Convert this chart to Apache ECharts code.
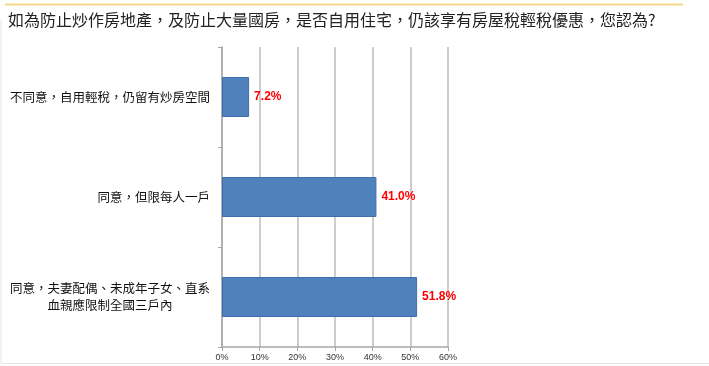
<!DOCTYPE html>
<html>
<head>
<meta charset="utf-8">
<script src="https://cdn.jsdelivr.net/npm/echarts@6/dist/echarts.min.js"></script>
<style>
html,body{margin:0;padding:0;background:#fff;}
#chart{width:709px;height:366px;}
</style>
</head>
<body>
<div id="chart"></div>
<script>
var titleText = '如為防止炒作房地產，及防止大量國房，是否自用住宅，仍該享有房屋稅輕稅優惠，您認為?';
var categories = [
  '不同意，自用輕稅，仍留有炒房空間',
  '同意，但限每人一戶',
  '同意，夫妻配偶、未成年子女、直系\n血親應限制全國三戶內'
];
var values = [7.2, 41.0, 51.8];
var xTicks = [0, 10, 20, 30, 40, 50, 60];

var chart = echarts.init(document.getElementById('chart'));
var cjk = '"Noto Sans CJK TC", "Noto Sans CJK SC", sans-serif';
chart.setOption({
  backgroundColor: '#fff',
  animation: false,
  title: {
    text: titleText,
    left: 3,
    top: 7,
    textStyle: { fontFamily: cjk, fontSize: 16, fontWeight: 'normal', color: '#222' }
  },
  graphic: [
    { type: 'line', shape: { x1: 5, y1: 4.5, x2: 683, y2: 4.5 }, style: { stroke: '#F3D68A', lineWidth: 2 } },
    { type: 'line', shape: { x1: 1, y1: 20, x2: 1, y2: 363 }, style: { stroke: '#E4E4E4', lineWidth: 1 } },
    { type: 'line', shape: { x1: 1, y1: 363.5, x2: 709, y2: 363.5 }, style: { stroke: '#E4E4E4', lineWidth: 1 } }
  ],
  grid: { left: 222, right: 261, top: 47, bottom: 19, containLabel: false },
  xAxis: {
    type: 'value',
    min: xTicks[0],
    max: xTicks[xTicks.length - 1],
    interval: 10,
    axisLine: { show: true, lineStyle: { color: '#A6A6A6', width: 1.5 } },
    axisTick: { show: true, length: 4, lineStyle: { color: '#A6A6A6' } },
    splitLine: { show: true, lineStyle: { color: '#BDBDBD', width: 1.5 } },
    axisLabel: { formatter: '{value}%', fontSize: 9, color: '#333', margin: 6, fontFamily: 'Liberation Sans, Arial, sans-serif' }
  },
  yAxis: {
    type: 'category',
    data: categories,
    inverse: true,
    axisLine: { show: true, lineStyle: { color: '#A6A6A6', width: 1.5 } },
    axisTick: { show: true, length: 4, lineStyle: { color: '#A6A6A6' } },
    axisLabel: {
      margin: 12,
      color: '#111',
      fontSize: 12.5,
      fontFamily: cjk,
      lineHeight: 17,
      formatter: function (v) { return '{c|' + v + '}'; },
      rich: { c: { align: 'center', fontSize: 12.5, fontFamily: cjk, color: '#111', lineHeight: 17 } }
    }
  },
  series: [{
    type: 'bar',
    data: values,
    barCategoryGap: '60%',
    itemStyle: { color: '#4F81BD', borderColor: '#3F6FA8', borderWidth: 1 },
    label: {
      show: true,
      position: 'right',
      distance: 5,
      formatter: function (p) { return p.value.toFixed(1) + '%'; },
      color: '#FF0000',
      fontWeight: 'bold',
      fontSize: 12,
      fontFamily: 'Liberation Sans, Arial, sans-serif'
    }
  }]
});
</script>
</body>
</html>
